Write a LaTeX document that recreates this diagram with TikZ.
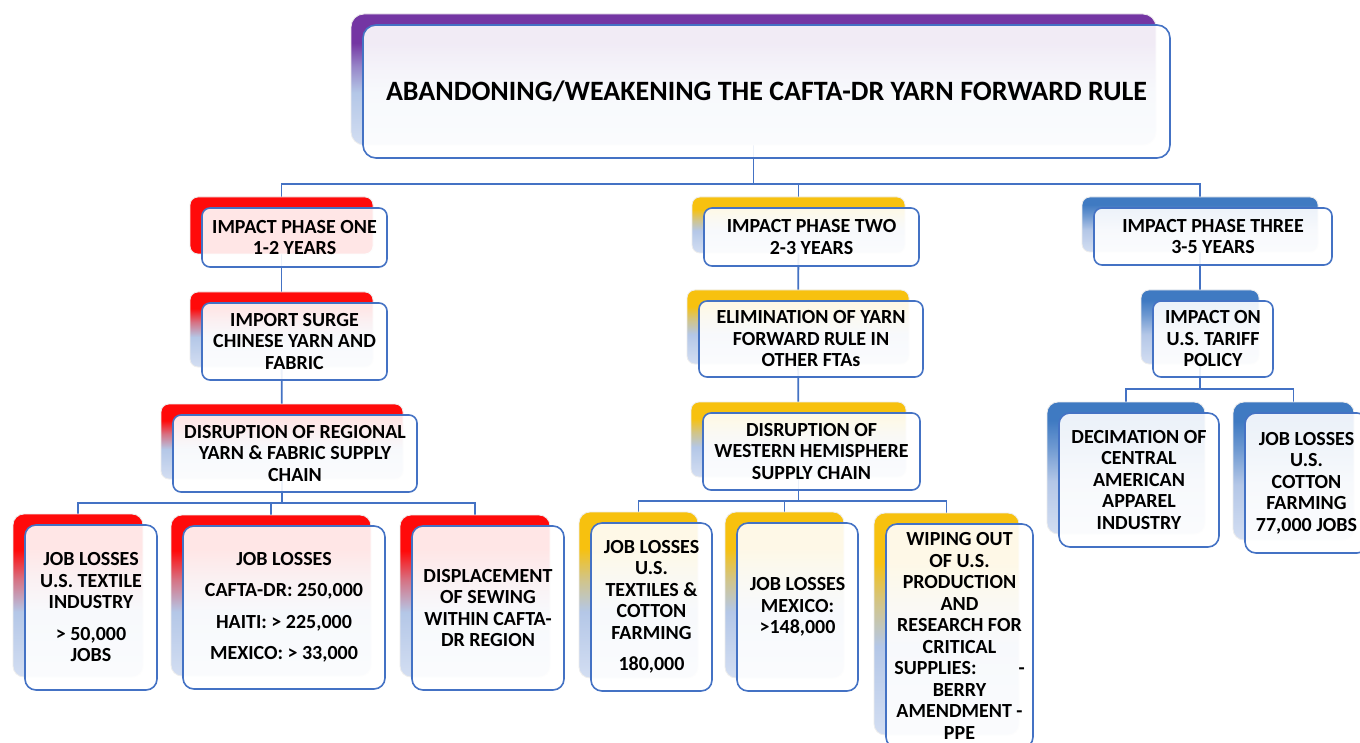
\documentclass[tikz,border=0pt]{standalone}
\usepackage{fontspec}
\setmainfont{Carlito}
\usetikzlibrary{calc}
\pgfdeclarelayer{connl}
\pgfdeclarelayer{backl}
\pgfsetlayers{connl,backl,main}
\definecolor{bord}{HTML}{4472C4}
\definecolor{lb}{HTML}{B4C7E7}
\definecolor{lbb}{HTML}{D3DEF2}
\definecolor{cred}{HTML}{FF0A0A}
\definecolor{cgold}{HTML}{F7C10F}
\definecolor{cblue}{HTML}{3F7AC2}
\definecolor{cpurp}{HTML}{7436A3}
\pgfdeclareverticalshading{shred}{100bp}{color(0bp)=(lbb); color(25bp)=(lbb); color(45bp)=(lb); color(55bp)=(cred!45!lb); color(64bp)=(cred); color(100bp)=(cred)}
\pgfdeclareverticalshading{shredsolid}{100bp}{color(0bp)=(cred); color(100bp)=(cred)}
\pgfdeclareverticalshading{shgold}{100bp}{color(0bp)=(lbb); color(25bp)=(lbb); color(45bp)=(lb); color(55bp)=(cgold!45!lb); color(64bp)=(cgold); color(100bp)=(cgold)}
\pgfdeclareverticalshading{shblue}{100bp}{color(0bp)=(lbb); color(25bp)=(lbb); color(45bp)=(lb); color(58bp)=(cblue!60!lb); color(68bp)=(cblue); color(100bp)=(cblue)}
\pgfdeclareverticalshading{shpurp}{100bp}{color(0bp)=(lbb); color(25bp)=(lbb); color(45bp)=(lb); color(55bp)=(cpurp!45!lb); color(64bp)=(cpurp); color(100bp)=(cpurp)}
\tikzset{
  front/.style={draw=bord, line width=1.6pt, fill=white, fill opacity=0.9, text opacity=1,
    align=center, inner sep=0pt, font=\bfseries\fontsize{20}{21.5}\selectfont},
  titlefont/.style={font=\bfseries\fontsize{28}{30}\selectfont},
  conn/.style={draw=bord, line width=1.8pt},
  backshape/.style={draw=black!7, line width=0.8pt}
}
\newcommand\mkbox[9]{%
  \begin{pgfonlayer}{backl}
    \shade[shading=#2, rounded corners=#7, backshape] (#3-12,#4-11) rectangle (#5-14,#6-13);
  \end{pgfonlayer}
  \node[front, rounded corners=#7, minimum width={#5-#3}, minimum height={#6-#4}, #8] (#1) at ({(#3+#5)/2},{(#4+#6)/2}) {#9};
  \coordinate (#1-c) at ([xshift=-13pt]#1.center);
}
\begin{document}
\begin{tikzpicture}[x=1pt, y=-1pt]
\useasboundingbox (0,0) rectangle (1360,743);
\begin{pgfonlayer}{connl}
  \fill[white] (0,0) rectangle (1360,743);
\end{pgfonlayer}
% title
\mkbox{title}{shpurp}{363}{25}{1170}{158}{13pt}{titlefont}{ABANDONING/WEAKENING THE CAFTA-DR YARN FORWARD RULE}
% column one
\mkbox{pa}{shredsolid}{202}{208}{387}{267}{8pt}{}{IMPACT PHASE ONE\\1-2 YEARS}
\mkbox{sa}{shred}{202}{303}{387}{380}{8pt}{}{IMPORT SURGE\\CHINESE YARN AND\\FABRIC}
\mkbox{da}{shred}{173}{415}{417}{492}{8pt}{}{DISRUPTION OF REGIONAL\\YARN \& FABRIC SUPPLY\\CHAIN}
\mkbox{ba}{shred}{25}{525}{157}{690}{11pt}{}{JOB LOSSES\\U.S. TEXTILE\\INDUSTRY\\[10pt]> 50,000\\JOBS}
\mkbox{bb}{shred}{183}{526}{385}{689}{11pt}{}{JOB LOSSES\\[10pt]CAFTA-DR: 250,000\\[10pt]HAITI: > 225,000\\[10pt]MEXICO: > 33,000}
\mkbox{bc}{shred}{412}{526}{564}{690}{11pt}{}{DISPLACEMENT\\OF SEWING\\WITHIN CAFTA-\\DR REGION}
% column two
\mkbox{pb}{shgold}{704}{208}{919}{266}{8pt}{}{IMPACT PHASE TWO\\2-3 YEARS}
\mkbox{eb}{shgold}{699}{301}{923}{377}{8pt}{}{ELIMINATION OF YARN\\FORWARD RULE IN\\OTHER FTAs}
\mkbox{wb}{shgold}{703}{413}{920}{490}{8pt}{}{DISRUPTION OF\\WESTERN HEMISPHERE\\SUPPLY CHAIN}
\mkbox{bd}{shgold}{591}{523}{712}{691}{11pt}{}{JOB LOSSES\\U.S.\\TEXTILES \&\\COTTON\\FARMING\\[10pt]180,000}
\mkbox{be}{shgold}{737}{523}{858}{691}{11pt}{}{JOB LOSSES\\MEXICO:\\>148,000}
\mkbox{bf}{shgold}{886}{524}{1033}{748}{11pt}{}{WIPING OUT\\OF U.S.\\PRODUCTION\\AND\\RESEARCH FOR\\CRITICAL\\SUPPLIES:\hspace{2.1em}-\\BERRY\\AMENDMENT -\\PPE}
% column three
\mkbox{pc}{shblue}{1094}{208}{1332}{265}{8pt}{}{IMPACT PHASE THREE\\3-5 YEARS}
\mkbox{tc}{shblue}{1153}{301}{1273}{377}{8pt}{}{IMPACT ON\\U.S. TARIFF\\POLICY}
\mkbox{bg}{shblue}{1059}{413}{1219}{547}{11pt}{}{DECIMATION OF\\CENTRAL\\AMERICAN\\APPAREL\\INDUSTRY}
\mkbox{bh}{shblue}{1245}{413}{1368}{553}{11pt}{}{JOB LOSSES\\U.S.\\COTTON\\FARMING\\77,000 JOBS}
% bus levels
\coordinate (bus0) at (0,184);
\coordinate (bus1) at (0,503);
\coordinate (bus2) at (0,501);
\coordinate (bus3) at (0,389);
\begin{pgfonlayer}{connl}
  \draw[conn] (title-c) -- (title-c |- bus0) -| (pa-c);
  \draw[conn] (title-c |- bus0) -| (pb-c);
  \draw[conn] (title-c |- bus0) -| (pc-c);
  \draw[conn] (pa-c) -- (sa-c);
  \draw[conn] (sa-c) -- (da-c);
  \draw[conn] (da-c) -- (da-c |- bus1) -| (ba-c);
  \draw[conn] (da-c |- bus1) -| (bb-c);
  \draw[conn] (da-c |- bus1) -| (bc-c);
  \draw[conn] (pb-c) -- (eb-c);
  \draw[conn] (eb-c) -- (wb-c);
  \draw[conn] (wb-c) -- (wb-c |- bus2) -| (bd-c);
  \draw[conn] (wb-c |- bus2) -| (be-c);
  \draw[conn] (wb-c |- bus2) -| (bf-c);
  \draw[conn] (pc-c) -- (tc-c);
  \draw[conn] (tc-c) -- (tc-c |- bus3) -| (bg-c);
  \draw[conn] (tc-c |- bus3) -| (bh-c);
\end{pgfonlayer}
\end{tikzpicture}
\end{document}
